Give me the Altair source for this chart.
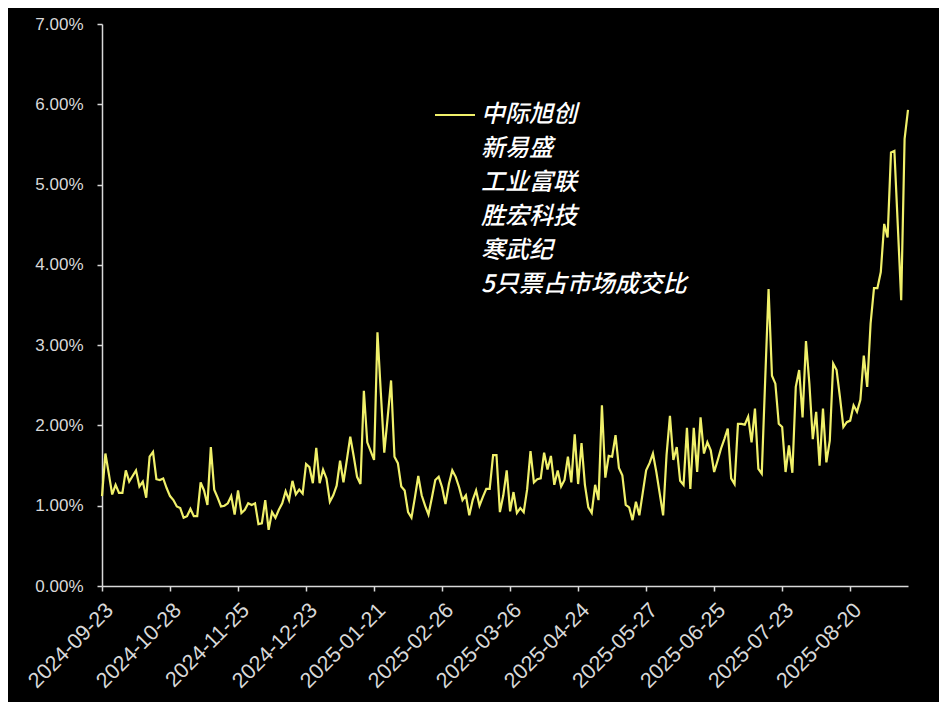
import altair as alt
import pandas as pd
import numpy as np

# ---------------- data ----------------
series_names = ["中际旭创", "新易盛", "工业富联", "胜宏科技", "寒武纪", "5只票占市场成交比"]

tick_dates = ["2024-09-23", "2024-10-28", "2024-11-25", "2024-12-23", "2025-01-21",
              "2025-02-26", "2025-03-26", "2025-04-24", "2025-05-27", "2025-06-25",
              "2025-07-23", "2025-08-20"]

# exchange holidays (weekdays closed) in the period
holidays = ["2024-10-01", "2024-10-02", "2024-10-03", "2024-10-04", "2024-10-07",
            "2025-01-01", "2025-01-28", "2025-01-29", "2025-01-30", "2025-01-31",
            "2025-02-03", "2025-02-04", "2025-04-04", "2025-05-01", "2025-05-02",
            "2025-05-05", "2025-06-02"]

# ratio in percent (one value per trading day)
ratio_part1 = [1.12, 1.65, 1.40, 1.14, 1.26, 1.16, 1.16, 1.44, 1.30, 1.37,
               1.44, 1.24, 1.30, 1.10, 1.61, 1.67, 1.33, 1.32, 1.34, 1.22,
               1.12, 1.07, 0.99, 0.97, 0.85, 0.87, 0.96, 0.87, 0.87, 1.29,
               1.19, 1.01, 1.73, 1.20, 1.10, 0.99, 1.00, 1.03, 1.12, 0.89,
               1.19, 0.91, 0.95, 1.03, 1.01, 1.03, 0.77, 0.78, 1.07, 0.70,
               0.92, 0.85, 0.95, 1.03, 1.18, 1.07, 1.31, 1.14, 1.20, 1.15]
ratio_part2 = [1.52, 1.48, 1.28, 1.72, 1.28, 1.45, 1.34, 1.05, 1.13, 1.25,
               1.56, 1.29, 1.57, 1.86, 1.62, 1.36, 1.27, 2.43, 1.79, 1.68,
               1.57, 3.16, 2.40, 1.66, 2.10, 2.56, 1.61, 1.53, 1.24, 1.19,
               0.92, 0.85, 1.10, 1.37, 1.13, 1.00, 0.89, 1.10, 1.32, 1.36,
               1.23, 1.02, 1.27, 1.44, 1.36, 1.23, 1.07, 1.13, 0.88, 1.07,
               1.19, 1.00, 1.11, 1.21, 1.21, 1.63, 1.63, 0.92, 1.13]
ratio_part3 = [1.44, 0.93, 1.17, 0.91, 0.97, 0.92, 1.20, 1.68, 1.29, 1.33,
               1.34, 1.66, 1.45, 1.62, 1.26, 1.44, 1.24, 1.32, 1.61, 1.29,
               1.89, 1.27, 1.78, 1.26, 0.98, 0.91, 1.26, 1.07, 2.25, 1.35,
               1.62, 1.61, 1.88, 1.47, 1.38, 1.01, 0.98, 0.82, 1.05, 0.88,
               1.16, 1.44, 1.53, 1.65, 1.42, 1.15, 0.88, 1.63, 2.12, 1.57,
               1.73, 1.31, 1.26, 1.97, 1.21, 1.97, 1.42, 2.10, 1.65]
ratio_part4 = [1.79, 1.69, 1.42, 1.56, 1.71, 1.83, 1.96, 1.34, 1.27, 2.02,
               2.02, 2.01, 2.11, 1.79, 2.21, 1.46, 1.40, 2.56, 3.70, 2.62,
               2.52, 2.02, 1.98, 1.42, 1.75, 1.41, 2.48, 2.69, 2.10, 3.05,
               2.52, 1.83, 2.17, 1.50, 2.21, 1.54, 1.81, 2.77, 2.69, 2.35,
               1.98, 2.04, 2.06, 2.25, 2.17, 2.32, 2.87, 2.48, 3.27, 3.71,
               3.71, 3.91, 4.51, 4.34, 5.40, 5.42, 4.49, 3.56, 5.57, 5.93]

ratio_pct = ratio_part1 + ratio_part2 + ratio_part3 + ratio_part4

trading_days = [d.strftime("%Y-%m-%d") for d in pd.bdate_range("2024-09-23", "2025-09-12")
                if d.strftime("%Y-%m-%d") not in holidays]
n = min(len(trading_days), len(ratio_pct))
df = pd.DataFrame({
    "date": trading_days[:n],
    "ratio": np.array(ratio_pct[:n]) / 100.0,
    "series": series_names[0],
})

LINE_COLOR = "#F0F06A"
AXIS_COLOR = "#d9d9d9"

chart = alt.Chart(df).mark_line(strokeWidth=2.2).encode(
    x=alt.X("date:O",
            scale=alt.Scale(type="point", padding=0),
            axis=alt.Axis(values=tick_dates, title=None, labelAngle=-45,
                          labelAlign="right", labelBaseline="top",
                          labelFont="Liberation Sans", labelFontSize=21.5,
                          labelColor=AXIS_COLOR, labelPadding=8,
                          tickSize=5, tickColor=AXIS_COLOR, tickWidth=1.5,
                          domainColor=AXIS_COLOR, domainWidth=1.5, grid=False)),
    y=alt.Y("ratio:Q",
            scale=alt.Scale(domain=[0, 0.07], nice=False),
            axis=alt.Axis(values=[0, 0.01, 0.02, 0.03, 0.04, 0.05, 0.06, 0.07],
                          format=".2%", title=None,
                          labelFont="Liberation Sans", labelFontSize=17,
                          labelColor=AXIS_COLOR, labelPadding=14,
                          tickSize=5, tickColor=AXIS_COLOR, tickWidth=1.5,
                          domainColor=AXIS_COLOR, domainWidth=1.5, grid=False)),
    color=alt.Color("series:N",
                    scale=alt.Scale(domain=series_names,
                                    range=[LINE_COLOR] + ["#000000"] * 5),
                    legend=alt.Legend(title=None, orient="none",
                                      legendX=332, legendY=70,
                                      symbolType="stroke", symbolSize=1600,
                                      symbolStrokeWidth=2,
                                      labelFont="Noto Sans CJK SC",
                                      labelFontSize=24, labelFontStyle="italic",
                                      labelFontWeight=500,
                                      labelColor="white", labelOffset=5,
                                      labelLimit=400, rowPadding=1, padding=0)),
).properties(
    width=806,
    height=562,
    background="black",
    autosize=alt.AutoSizeParams(type="none"),
    padding={"left": 94, "top": 16, "right": 31, "bottom": 116},
).configure_view(strokeWidth=0)

chart.save("out.html", embed_options={"renderer": "svg", "actions": False})
